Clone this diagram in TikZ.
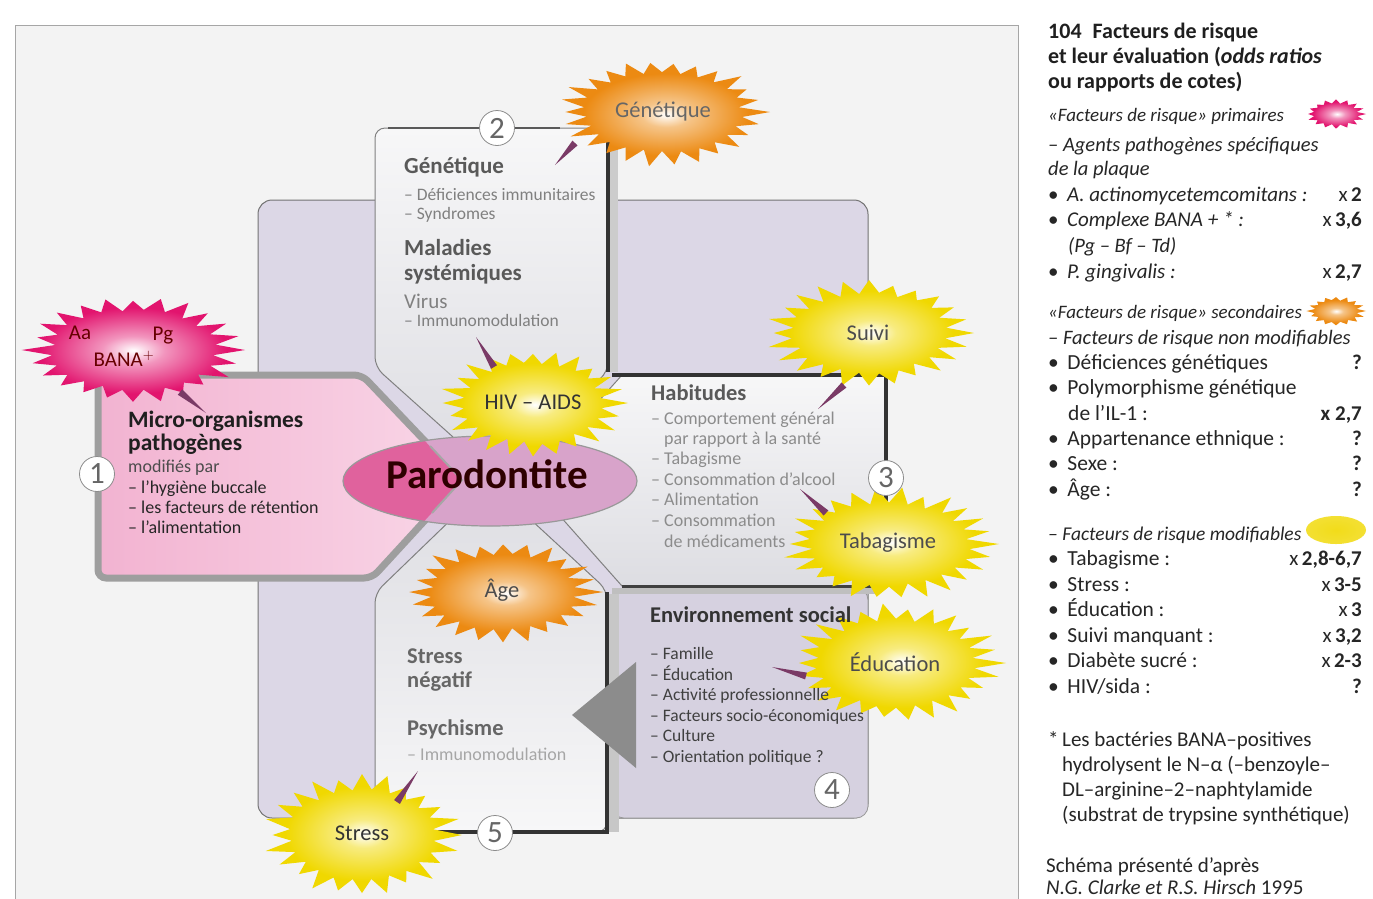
\documentclass[tikz,border=0pt]{standalone}
\usepackage{fontspec}
\setmainfont{Carlito}
\usetikzlibrary{calc}
\definecolor{lav}{HTML}{DCD7E6}
\definecolor{lavf}{HTML}{D6D1E0}
\definecolor{pnl}{HTML}{F7F7F8}
\definecolor{pnlb}{HTML}{DDDDE2}
\definecolor{pka}{HTML}{F2B3D1}
\definecolor{pkb}{HTML}{F9D6E7}
\definecolor{elm}{HTML}{D8A3CA}
\definecolor{eld}{HTML}{E0629D}
\definecolor{bY}{HTML}{F0D800}
\definecolor{bO}{HTML}{EC8A12}
\definecolor{bM}{HTML}{E2146E}
\definecolor{wdg}{HTML}{7A3A66}
\definecolor{frm}{HTML}{F3F3F3}
\colorlet{bYm}{white!50!bY}
\colorlet{bOm}{white!50!bO}
\colorlet{bMm}{white!55!bM}
\pgfdeclareradialshading{yburst}{\pgfpoint{0bp}{0bp}}{color(0bp)=(white); color(6bp)=(bYm); color(20bp)=(bY); color(50bp)=(bY)}
\pgfdeclareradialshading{oburst}{\pgfpoint{0bp}{0bp}}{color(0bp)=(white); color(6bp)=(bOm); color(20bp)=(bO); color(50bp)=(bO)}
\pgfdeclareradialshading{mburst}{\pgfpoint{0bp}{0bp}}{color(0bp)=(white); color(7bp)=(bMm); color(21bp)=(bM); color(50bp)=(bM)}
\newcommand\burst[7]{%
 \pgfmathsetseed{#7}%
 \pgfmathtruncatemacro\nn{2*#6-1}%
 \shade[shading=#1] ({#2+#4},{#3}) \foreach \i [evaluate=\i as \rr using (1-isodd(\i))*(0.88+0.12*rnd)+isodd(\i)*(0.70+0.05*rnd)] in {1,...,\nn} { -- ({#2+#4*\rr*cos(\i*180/#6)},{#3+#5*\rr*sin(\i*180/#6)}) } -- cycle;}
\newcommand\wedgeptr[3]{%
 \coordinate (#1b) at #2; \coordinate (#1t) at #3;
 \fill[wdg] ($(#1b)!3.5pt!90:(#1t)$) -- ($(#1b)!3.5pt!-90:(#1t)$) -- (#1t) -- cycle;}
\newcommand\fs[1]{\fontsize{#1}{#1}\selectfont}
\tikzset{
 lt/.style={anchor=base west, inner sep=0pt},
 rv/.style={anchor=base east, inner sep=0pt, font=\fs{21}, text=black!85},
 rc/.style={lt, font=\fs{21}, text=black!85},
 rci/.style={lt, font=\fs{19.5}\itshape, text=black!85},
 bul/.style={lt, font=\fs{21.5}, text=black!85},
 btxt/.style={inner sep=0pt, font=\fs{22.5}, text=black!70},
 num/.style={circle, draw=black!45, fill=white, line width=0.8pt, inner sep=0pt, minimum size=35pt, font=\fs{31}, text=black!60},
 hd2/.style={lt, font=\fs{23}\bfseries, text=black!65},
 it2/.style={lt, font=\fs{17.5}, text=black!50},
 hd1/.style={lt, font=\fs{23.5}\bfseries, text=black!88},
 it1/.style={lt, font=\fs{18}, text=black!85},
 hd3/.style={lt, font=\fs{22.5}\bfseries, text=black!65},
 it3/.style={lt, font=\fs{18}, text=black!45},
 hd4/.style={lt, font=\fs{22.5}\bfseries, text=black!80},
 it4/.style={lt, font=\fs{17.5}, text=black!75},
 hd5/.style={lt, font=\fs{22.5}\bfseries, text=black!60},
 it5/.style={lt, font=\fs{18}, text=black!35},
}
\begin{document}
\begin{tikzpicture}[x=1pt,y=-1pt]
\useasboundingbox (0,0) rectangle (1373,898);
\fill[white] (0,0) rectangle (1373,898);
\draw[fill=frm, draw=black!35, line width=1pt] (15,25) rectangle (1018,910);
% central lavender square
\draw[fill=lav, draw=black!55, line width=1pt, rounded corners=14] (258,200) rectangle (868,818);
% panel 4
\draw[fill=lavf, draw=black!40, line width=0.8pt, rounded corners=12] (612,588) rectangle (868,818);
% panel 3
\draw[top color=pnl, bottom color=pnlb, draw=black!50, line width=1pt] (622,375) -- (886,375) -- (886,586) -- (622,586) -- (528,480) -- cycle;
\fill[black!25] (612,588) rectangle (880,594);
\draw[black!80, line width=4pt] (612,375) -- (886,375) -- (886,586);
\draw[black!75, line width=3pt] (622,586) -- (884,586);
% panel 2
\draw[top color=pnl, bottom color=pnlb, draw=black!50, line width=1pt, rounded corners=10] (375,367) -- (375,128) -- (608,128) -- (608,372) -- (492,472) -- cycle;
\fill[black!20] (610,132) rectangle (618,372);
\draw[black!80, line width=4pt] (608,130) -- (608,372);
\draw[black!65, line width=1.5pt] (388,128) -- (560,128);
% panel 5
\draw[top color=pnlb, bottom color=pnl, draw=black!50, line width=1pt, rounded corners=10] (375,593) -- (490,482) -- (607,590) -- (607,832) -- (375,832) -- cycle;
\fill[black!22] (609,594) rectangle (619,832);
\draw[black!80, line width=4pt] (607,592) -- (607,832) -- (395,832);
% grey triangle
\fill[black!45] (572,715) -- (636,662) -- (636,768) -- cycle;
% panel 1 pink
\draw[left color=pka, right color=pkb, draw=black!38, line width=7pt, rounded corners=8] (98,375) -- (362,375) -- (462,480) -- (372,578) -- (98,578) -- cycle;
% ellipse
\fill[elm] (490,481) ellipse [x radius=147, y radius=45];
\begin{scope}
\clip (98,375) -- (362,375) -- (462,480) -- (372,578) -- (98,578) -- cycle;
\fill[eld] (490,481) ellipse [x radius=147, y radius=45];
\end{scope}
\draw[black!35, line width=2pt] (430,446) -- (462,480) -- (432,513);
\draw[black!40, line width=1.2pt] (490,481) ellipse [x radius=147, y radius=45];
% bursts
\burst{oburst}{662}{112}{108}{55}{26}{11}
\burst{mburst}{133}{350}{112}{55}{24}{12}
\burst{yburst}{533}{403}{95}{55}{24}{13}
\burst{yburst}{869}{333}{105}{55}{24}{14}
\burst{yburst}{889}{544}{110}{57}{26}{15}
\burst{oburst}{503}{592}{100}{52}{24}{16}
\burst{yburst}{896}{663}{110}{60}{26}{17}
\burst{yburst}{362}{835}{100}{62}{24}{18}
\burst{mburst}{1336}{114}{30}{15}{16}{19}
\burst{oburst}{1336}{311}{30}{15}{16}{20}
\shade[inner color=bY!90, outer color=bY!80!white] (1336,530) ellipse [x radius=30, y radius=14];
% wedges
\wedgeptr{wg}{(575,143)}{(555,165)}
\wedgeptr{wh}{(494,367)}{(476,337)}
\wedgeptr{wm}{(180,392)}{(206,413)}
\wedgeptr{ws}{(844,385)}{(818,409)}
\wedgeptr{wt}{(826,513)}{(800,489)}
\wedgeptr{we}{(806,676)}{(772,667)}
\wedgeptr{wst}{(397,802)}{(418,771)}
\node[inner sep=0pt, font=\fs{41}\bfseries, text=black!60!red!45!black] (paro) at (487,474) {Parodontite};
% numbers
\node[num] (n1) at (97,474) {1};
\node[num] (n2) at (497,128) {2};
\node[num] (n3) at (886,478) {3};
\node[num] (n4) at (832,790) {4};
\node[num] (n5) at (495,833) {5};
% panel 2 text
\node[hd2] (g1) at (404,173) {Génétique};
\node[it2] (g2) at (404,200) {– Déficiences immunitaires};
\node[it2] (g3) at (404,219) {– Syndromes};
\node[hd2] (g4) at (404,255) {Maladies};
\node[hd2] (g5) at (404,280) {systémiques};
\node[lt, font=\fs{21}, text=black!50] (g6) at (404,308) {Virus};
\node[it2] (g7) at (404,326) {– Immunomodulation};
% panel 1 text
\node[hd1] (m1) at (128,427) {Micro-organismes};
\node[hd1] (m2) at (128,450) {pathogènes};
\node[it1, text=black!70] (m3) at (128,472) {modifiés par};
\node[it1] (m4) at (128,493) {– l’hygiène buccale};
\node[it1] (m5) at (128,513) {– les facteurs de rétention};
\node[it1] (m6) at (128,533) {– l’alimentation};
% panel 3 text
\node[hd3] (h1) at (651,400) {Habitudes};
\node[it3] (h2) at (651,424) {– Comportement général};
\node[it3] (h3) at (664,444) {par rapport à la santé};
\node[it3] (h4) at (651,464) {– Tabagisme};
\node[it3] (h5) at (651,485) {– Consommation d’alcool};
\node[it3] (h6) at (651,505) {– Alimentation};
\node[it3] (h7) at (651,526) {– Consommation};
\node[it3] (h8) at (664,547) {de médicaments};
% panel 4 text
\node[hd4] (e1) at (650,622) {Environnement social};
\node[it4] (e2) at (650,659) {– Famille};
\node[it4] (e3) at (650,680) {– Éducation};
\node[it4] (e4) at (650,700) {– Activité professionnelle};
\node[it4] (e5) at (650,721) {– Facteurs socio-économiques};
\node[it4] (e6) at (650,741) {– Culture};
\node[it4] (e7) at (650,762) {– Orientation politique ?};
% panel 5 text
\node[hd5] (s1) at (407,663) {Stress};
\node[hd5] (s2) at (407,687) {négatif};
\node[hd5] (s3) at (407,735) {Psychisme};
\node[it5] (s4) at (407,760) {– Immunomodulation};
% burst texts
\node[btxt, text=black!60] (bg) at (663,112) {Génétique};
\node[btxt, text=black!80] (bh) at (533,402) {HIV – AIDS};
\node[btxt] (bs) at (868,333) {Suivi};
\node[btxt] (bt) at (888,543) {Tabagisme};
\node[btxt] (ba) at (502,590) {Âge};
\node[btxt] (be) at (895,662) {Éducation};
\node[btxt, text=black!80] (bst) at (362,833) {Stress};
\node[btxt, font=\fs{21}, text=red!40!black] (baa) at (80,333) {Aa};
\node[btxt, font=\fs{21}, text=red!40!black] (bpg) at (163,336) {Pg};
\node[btxt, font=\fs{21}, text=red!40!black] (bba) at (124,359) {BANA$^{+}$};
% right column
\node[lt, font=\fs{22}\bfseries, text=black!88] (t1) at (1048,38) {104\hspace{0.5em}Facteurs de risque};
\node[lt, font=\fs{22}\bfseries, text=black!88] (t2) at (1048,63) {et leur évaluation (\textit{odds ratios}};
\node[lt, font=\fs{22}\bfseries, text=black!88] (t3) at (1048,88) {ou rapports de cotes)};
\node[rci, font=\fs{19}\itshape] (r1) at (1048,121) {«Facteurs de risque» primaires};
\node[rci, font=\fs{20.5}\itshape] (r2) at (1048,151) {– Agents pathogènes spécifiques};
\node[rci, font=\fs{20.5}\itshape] (r3) at (1048,175) {de la plaque};
\node[rc] (r4) at (1048,201) {•\hspace{0.4em}\textit{A. actinomycetemcomitans :}};
\node[rv] (v4) at (1362,201) {x\,\textbf{2}};
\node[rc] (r5) at (1048,226) {•\hspace{0.4em}\textit{Complexe BANA + * :}};
\node[rv] (v5) at (1362,226) {x\,\textbf{3,6}};
\node[rci, font=\fs{20.5}\itshape] (r6) at (1068,252) {(Pg – Bf – Td)};
\node[rc] (r7) at (1048,278) {•\hspace{0.4em}\textit{P. gingivalis :}};
\node[rv] (v7) at (1362,278) {x\,\textbf{2,7}};
\node[rci, font=\fs{19}\itshape] (r8) at (1048,318) {«Facteurs de risque» secondaires};
\node[rci, font=\fs{20.5}\itshape] (r9) at (1048,344) {– Facteurs de risque non modifiables};
\node[bul] (r10) at (1048,369) {•\hspace{0.4em}Déficiences génétiques};
\node[rv] (v10) at (1362,369) {\textbf{?}};
\node[bul] (r11) at (1048,394) {•\hspace{0.4em}Polymorphisme génétique};
\node[bul] (r12) at (1068,420) {de l’IL-1 :};
\node[rv] (v12) at (1362,420) {\textbf{x 2,7}};
\node[bul] (r13) at (1048,445) {•\hspace{0.4em}Appartenance ethnique :};
\node[rv] (v13) at (1362,445) {\textbf{?}};
\node[bul] (r14) at (1048,470) {•\hspace{0.4em}Sexe :};
\node[rv] (v14) at (1362,470) {\textbf{?}};
\node[bul] (r15) at (1048,496) {•\hspace{0.4em}Âge :};
\node[rv] (v15) at (1362,496) {\textbf{?}};
\node[rci] (r16) at (1048,540) {– Facteurs de risque modifiables};
\node[bul] (r17) at (1048,565) {•\hspace{0.4em}Tabagisme :};
\node[rv] (v17) at (1362,565) {x\,\textbf{2,8-6,7}};
\node[bul] (r18) at (1048,591) {•\hspace{0.4em}Stress :};
\node[rv] (v18) at (1362,591) {x\,\textbf{3-5}};
\node[bul] (r19) at (1048,616) {•\hspace{0.4em}Éducation :};
\node[rv] (v19) at (1362,616) {x\,\textbf{3}};
\node[bul] (r20) at (1048,642) {•\hspace{0.4em}Suivi manquant :};
\node[rv] (v20) at (1362,642) {x\,\textbf{3,2}};
\node[bul] (r21) at (1048,667) {•\hspace{0.4em}Diabète sucré :};
\node[rv] (v21) at (1362,667) {x\,\textbf{2-3}};
\node[bul] (r22) at (1048,693) {•\hspace{0.4em}HIV/sida :};
\node[rv] (v22) at (1362,693) {\textbf{?}};
\node[rc] (f0) at (1048,746) {*};
\node[rc] (f1) at (1062,746) {Les bactéries BANA–positives};
\node[rc] (f2) at (1062,771) {hydrolysent le N–α (–benzoyle–};
\node[rc] (f3) at (1062,796) {DL–arginine–2–naphtylamide};
\node[rc] (f4) at (1062,821) {(substrat de trypsine synthétique)};
\node[rc] (f5) at (1046,872) {Schéma présenté d’après};
\node[rc] (f6) at (1046,894) {\textit{N.G. Clarke et R.S. Hirsch} 1995};
\end{tikzpicture}
\end{document}
